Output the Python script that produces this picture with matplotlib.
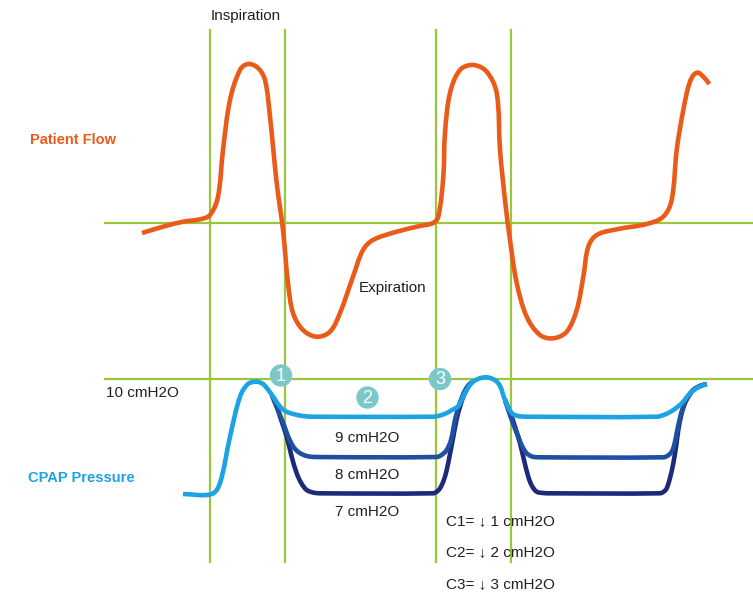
import math
import matplotlib.pyplot as plt
import matplotlib.patches as mpatches
from matplotlib.path import Path

# schematic chart, data (x = time, y = level, y grows downward)
flow_t = [142, 163, 183, 200, 210, 218, 223, 230, 240, 248, 258, 265, 270, 276.7, 283, 288,
          293, 303, 316.7, 330, 340, 353, 363, 373, 396.7, 420, 433, 438.3, 443.3, 445,
          450, 460, 473.3, 486.7, 496.7, 500, 505, 510, 516.7, 526.7, 540, 553.3, 566.7,
          576.7, 583.3, 588.3, 596.7, 616.7, 646.7, 663.3, 671.7, 676.7, 683.3, 690,
          696.7, 703.3, 709.3]
flow_v = [233, 226.7, 221.7, 219.3, 215, 196.7, 150, 100, 70, 64, 68, 80, 116.7, 183, 230, 283,
          313, 330, 336.7, 331.7, 313, 276.7, 250, 240, 231.7, 226, 223, 216.7, 176.7, 133,
          93, 70, 65, 71.7, 93, 150, 200, 240, 283, 316.7, 335, 338.3, 331.7,
          310, 276.7, 246.7, 235, 229.3, 224, 216.7, 200, 150, 110, 81.7,
          72.7, 76.7, 84]

# CPAP pressure, C1 (light blue)
p1_t = [183, 211.7, 220, 230, 240, 248, 256.7, 263, 268.3, 274, 280, 286, 293.3, 303, 313,
        433.3, 440, 446.7, 452, 458.3, 465, 473, 486.7, 498.3, 505, 511.7, 518, 526.7,
        656.7, 666, 673.3, 682, 690, 698, 706.7]
p1_v = [494, 494, 483, 436.7, 396.7, 384, 381.7, 384, 390, 398, 406.7, 411.5, 414, 416, 416.7,
        416.7, 415.5, 413, 410, 406, 393, 381.7, 377.3, 383.3, 400, 413, 416, 416.7,
        416.7, 414, 410, 403, 393.3, 387.5, 384]
# C2 (medium blue)
p2_t = [271.7, 277, 283.3, 288, 293.3, 299, 306.7, 316, 436.7, 441.5, 446.7, 451, 455,
        458.5, 461.7, 465, 469, 473]
p2_v = [395, 408, 423.3, 436, 446.7, 452.5, 456, 457, 457, 455, 450, 440, 420, 407, 398, 390.5, 384.5, 381.7]
p2b_t = [505, 510, 514, 518.3, 522, 526.7, 532, 540, 663.3, 668, 671.7, 674.5, 676.7, 680,
         683.3, 688, 693.3, 700, 706.7]
p2b_v = [400, 415, 426, 436.7, 446, 453.3, 456.5, 457.3, 457.3, 455.5, 451.7, 444, 433, 418,
         406.7, 397, 390, 386, 384]
# C3 (navy)
p3_t = [275, 280.5, 286.7, 291.5, 296.7, 301.5, 306.7, 313, 320, 433.3, 437, 440, 443.5,
        446.7, 450, 453.3, 456.5, 460, 464, 469, 473]
p3_v = [400, 418, 436.7, 456, 473.3, 483.5, 490, 492.5, 493.3, 493.3, 491.5, 488.3, 481,
        470, 454, 436.7, 420, 406.7, 395, 385.5, 381.7]
p3b_t = [505, 511.7, 516, 520, 524, 528.3, 532, 536.7, 543, 550, 660, 664, 666.7, 670,
         673.3, 676, 678.3, 681.5, 685, 689, 693.3, 700, 706.7]
p3b_v = [400, 416.7, 430, 443.3, 460, 476.7, 486, 491.7, 493, 493.3, 493.3, 491.5, 488.3,
         478, 463.3, 447, 430, 414, 403, 395.5, 390, 386, 384]

v_lines = [210, 285, 436, 511]
h_lines = [223, 379]
levels = ['10 cmH2O', '9 cmH2O', '8 cmH2O', '7 cmH2O']
changes = ['C1= \u2193 1 cmH2O', 'C2= \u2193 2 cmH2O', 'C3= \u2193 3 cmH2O']

green = '#98c73c'
orange = '#ea5b19'
light = '#1ca3e3'
mid = '#1f4fa0'
navy = '#1d2a7a'
teal = '#7cc8c8'
txt = '#231f20'

plt.rcParams['font.family'] = ['Liberation Sans', 'DejaVu Sans']


def unit(dx, dy):
    d = math.hypot(dx, dy)
    return (dx / d, dy / d) if d else (0.0, 0.0)


def smooth_path(xs, ys):
    # smooth curve through the read points, cubic bezier per segment,
    # handle length tied to the segment so long flat runs don't overshoot
    pts = list(zip(xs, ys))
    n = len(pts)
    tans = []
    for i in range(n):
        a = pts[max(i - 1, 0)]
        b = pts[min(i + 1, n - 1)]
        tans.append(unit(b[0] - a[0], b[1] - a[1]))
    verts = [pts[0]]
    codes = [Path.MOVETO]
    for i in range(n - 1):
        p1, p2 = pts[i], pts[i + 1]
        L = math.hypot(p2[0] - p1[0], p2[1] - p1[1]) / 3
        c1 = (p1[0] + tans[i][0] * L, p1[1] + tans[i][1] * L)
        c2 = (p2[0] - tans[i + 1][0] * L, p2[1] - tans[i + 1][1] * L)
        verts += [c1, c2, p2]
        codes += [Path.CURVE4] * 3
    return Path(verts, codes)


fig = plt.figure(figsize=(7.53, 5.96), dpi=100)
ax = fig.add_axes([0, 0, 1, 1])
ax.set_xlim(0, 753)
ax.set_ylim(596, 0)
ax.axis('off')

for x in v_lines:
    ax.plot([x, x], [30, 562], color=green, lw=1.6, zorder=1)
for y in h_lines:
    ax.plot([105, 753], [y, y], color=green, lw=1.6, zorder=1)

curves = [(flow_t, flow_v, orange), (p3_t, p3_v, navy), (p3b_t, p3b_v, navy),
          (p2_t, p2_v, mid), (p2b_t, p2b_v, mid), (p1_t, p1_v, light)]
for xs, ys, c in curves:
    ax.add_patch(mpatches.PathPatch(smooth_path(xs, ys), fill=False, edgecolor=c, lw=3.3,
                                    capstyle='butt', joinstyle='round', zorder=3))

# numbered markers
for n, (cx, cy) in enumerate([(281, 375.5), (367.5, 397.5), (440, 379)], start=1):
    ax.add_patch(mpatches.Circle((cx, cy), 10.5, color=teal, zorder=5))
    ax.text(cx, cy + 1, str(n), color='white', fontsize=13, ha='center', va='center', zorder=6)

ax.text(246, 16, 'Inspiration', fontsize=11, color=txt, ha='center', va='center')
ax.text(393, 288, 'Expiration', fontsize=11, color=txt, ha='center', va='center')
ax.text(30, 140, 'Patient Flow', fontsize=10.5, color=orange, fontweight='bold', va='center')
ax.text(28, 478, 'CPAP Pressure', fontsize=10.5, color=light, fontweight='bold', va='center')

ax.text(106, 393, levels[0], fontsize=11, color=txt, va='center')
for lab, y in zip(levels[1:], [438, 475, 512]):
    ax.text(367, y, lab, fontsize=11, color=txt, ha='center', va='center')
for lab, y in zip(changes, [521, 552.5, 584]):
    ax.text(446, y, lab, fontsize=11, color=txt, va='center')

fig.savefig('out.png', dpi=100)
